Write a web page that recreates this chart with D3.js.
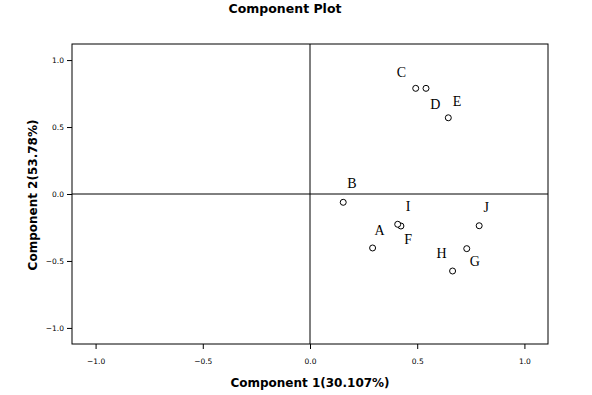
<!DOCTYPE html>
<html><head><meta charset="utf-8">
<script src="https://cdn.jsdelivr.net/npm/d3@7"></script>
<style>body{margin:0;background:#fff}</style>
</head><body>
<script>
const labels = ["A","B","C","D","E","F","G","H","I","J"];
const comp1 = [0.292,0.155,0.493,0.541,0.645,0.424,0.665,0.731,0.409,0.789];
const comp2 = [-0.403,-0.062,0.789,0.789,0.569,-0.239,-0.575,-0.408,-0.226,-0.237];
// label anchor positions (data units)
const labX = [0.325,0.196,0.426,0.585,0.686,0.458,0.769,0.614,0.458,0.822];
const labY = [-0.305,0.045,0.875,0.635,0.655,-0.375,-0.535,-0.475,-0.130,-0.135];
const ticks = [-1.0,-0.5,0.0,0.5,1.0];
const title = "Component Plot";
const xTitle = "Component 1(30.107%)";
const yTitle = "Component 2(53.78%)";

const W = 592, H = 395;
const svg = d3.select("body").append("svg").attr("width",W).attr("height",H);
const m = {left:72, right:548, top:44, bottom:344};
const x = d3.scaleLinear().domain([-1.11,1.11]).range([m.left,m.right]);
const y = d3.scaleLinear().domain([-1.12,1.12]).range([m.bottom,m.top]);

svg.append("rect").attr("x",m.left).attr("y",m.top).attr("width",m.right-m.left).attr("height",m.bottom-m.top)
  .attr("fill","none").attr("stroke","#000").attr("stroke-width",1);

const fmt = d3.format(".1f");
const xa = svg.append("g").attr("transform",`translate(0,${m.bottom})`)
  .call(d3.axisBottom(x).tickValues(ticks).tickFormat(fmt).tickSize(5).tickPadding(10));
const ya = svg.append("g").attr("transform",`translate(${m.left},0)`)
  .call(d3.axisLeft(y).tickValues(ticks).tickFormat(fmt).tickSize(5).tickPadding(3));
[xa,ya].forEach(a=>{
  a.select(".domain").remove();
  a.selectAll("text").attr("font-family","DejaVu Sans").attr("font-size",7.5).attr("fill","#000");
  a.selectAll("line").attr("stroke","#000");
});

svg.append("line").attr("x1",x(0)).attr("x2",x(0)).attr("y1",m.top).attr("y2",m.bottom).attr("stroke","#000");
svg.append("line").attr("x1",m.left).attr("x2",m.right).attr("y1",y(0)).attr("y2",y(0)).attr("stroke","#000");

svg.selectAll("circle.pt").data(labels).enter().append("circle")
  .attr("cx",(d,i)=>x(comp1[i])).attr("cy",(d,i)=>y(comp2[i])).attr("r",3)
  .attr("fill","#fff").attr("stroke","#000").attr("stroke-width",1);

svg.selectAll("text.lab").data(labels).enter().append("text")
  .attr("x",(d,i)=>x(labX[i])).attr("y",(d,i)=>y(labY[i]))
  .attr("text-anchor","middle").attr("font-family","Liberation Serif").attr("font-size",14)
  .text(d=>d);

svg.append("text").attr("x",285).attr("y",13).attr("text-anchor","middle")
  .attr("font-family","DejaVu Sans").attr("font-size",12.5).attr("font-weight","bold").text(title);
svg.append("text").attr("x",310).attr("y",387).attr("text-anchor","middle")
  .attr("font-family","DejaVu Sans").attr("font-size",12).attr("font-weight","bold").text(xTitle);
svg.append("text").attr("transform","translate(37,195) rotate(-90)").attr("text-anchor","middle")
  .attr("font-family","DejaVu Sans").attr("font-size",12).attr("font-weight","bold").text(yTitle);
</script>
</body></html>
